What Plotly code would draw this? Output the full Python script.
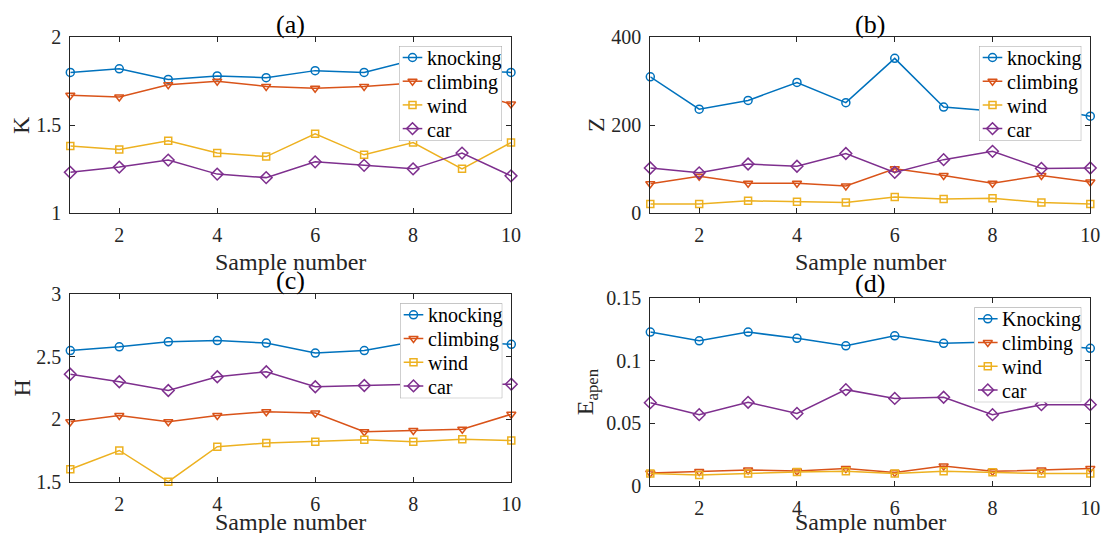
import plotly.graph_objects as go

W, H = 1106, 533
samples = list(range(1, 11))
series_names = ["knocking", "climbing", "wind", "car"]
series_names_d = ["Knocking", "climbing", "wind", "car"]

# (a) K
K_knocking = [1.80, 1.82, 1.76, 1.78, 1.77, 1.81, 1.80, 1.87, 1.81, 1.80]
K_climbing = [1.67, 1.66, 1.73, 1.75, 1.72, 1.71, 1.72, 1.74, 1.70, 1.62]
K_wind = [1.38, 1.36, 1.41, 1.34, 1.32, 1.45, 1.33, 1.40, 1.25, 1.40]
K_car = [1.23, 1.26, 1.30, 1.22, 1.20, 1.29, 1.27, 1.25, 1.34, 1.21]

# (b) Z
Z_knocking = [310, 236, 256, 297, 251, 352, 241, 232, 240, 220]
Z_climbing = [66, 83, 67, 67, 61, 100, 85, 67, 85, 70]
Z_wind = [20, 20, 27, 25, 23, 36, 31, 33, 23, 20]
Z_car = [102, 91, 111, 106, 135, 92, 121, 140, 101, 102]

# (c) H
H_knocking = [2.55, 2.58, 2.62, 2.63, 2.61, 2.53, 2.55, 2.62, 2.62, 2.60]
H_climbing = [1.98, 2.03, 1.98, 2.03, 2.06, 2.05, 1.90, 1.91, 1.92, 2.04]
H_wind = [1.60, 1.75, 1.50, 1.78, 1.81, 1.82, 1.835, 1.82, 1.84, 1.83]
H_car = [2.36, 2.30, 2.23, 2.34, 2.38, 2.26, 2.27, 2.28, 2.28, 2.28]

# (d) E_apen
E_knocking = [0.123, 0.116, 0.123, 0.118, 0.112, 0.120, 0.114, 0.115, 0.113, 0.110]
E_climbing = [0.0104, 0.0115, 0.0128, 0.0120, 0.0139, 0.0107, 0.0160, 0.0117, 0.0128, 0.0139]
E_wind = [0.0099, 0.0088, 0.0100, 0.0112, 0.0117, 0.0100, 0.0117, 0.0110, 0.0100, 0.0100]
E_car = [0.0666, 0.0570, 0.0669, 0.0580, 0.0770, 0.0700, 0.0709, 0.0570, 0.0650, 0.0650]

colors = ["#0072BD", "#D95319", "#EDB120", "#7E2F8E"]
symbols = ["circle-open", "triangle-down-open", "square-open", "diamond-open"]
msizes = [8, 8, 7, 9]

FONT = "Liberation Serif"
TXT = "#262626"

# pixel boxes of the axes: (left, right, top, bottom)
boxes = [(70.3, 511, 37.3, 212.7), (650.3, 1090.3, 37.3, 212.7),
         (70.3, 511.3, 294.3, 481.7), (650.3, 1090.3, 298.3, 486)]

panels = [
    dict(data=[K_knocking, K_climbing, K_wind, K_car], names=series_names,
         yrange=[1, 2], ytick=[1, 1.5, 2], ytext=["1", "1.5", "2"], ylabel="K", title="(a)"),
    dict(data=[Z_knocking, Z_climbing, Z_wind, Z_car], names=series_names,
         yrange=[0, 400], ytick=[0, 200, 400], ytext=["0", "200", "400"], ylabel="Z", title="(b)"),
    dict(data=[H_knocking, H_climbing, H_wind, H_car], names=series_names,
         yrange=[1.5, 3], ytick=[1.5, 2, 2.5, 3], ytext=["1.5", "2", "2.5", "3"], ylabel="H", title="(c)"),
    dict(data=[E_knocking, E_climbing, E_wind, E_car], names=series_names_d,
         yrange=[0, 0.15], ytick=[0, 0.05, 0.1, 0.15], ytext=["0", "0.05", "0.1", "0.15"],
         ylabel="E<sub>apen</sub>", title="(d)"),
]

# legend boxes (left, right, top, bottom) in pixels
leg_boxes = [(399, 502, 46, 141), (979, 1081.3, 46, 141),
             (400, 502.3, 303.3, 398.3), (974.3, 1081.3, 307.3, 402.3)]
ylab_x = [21, 596, 21.5, 587]
title_y = [24, 24, 280, 283.5]
xlab_y = [261.5, 261.5, 521.5, 521.5]

fig = go.Figure()
layout = dict(width=W, height=H,
              margin=dict(l=0, r=0, t=0, b=0, pad=0, autoexpand=False),
              paper_bgcolor="white", plot_bgcolor="white", showlegend=False,
              font=dict(family=FONT, color=TXT, size=20), annotations=[])

for i, p in enumerate(panels):
    n = i + 1
    xa = "x" if n == 1 else f"x{n}"
    ya = "y" if n == 1 else f"y{n}"
    for j in range(4):
        fig.add_trace(go.Scatter(
            x=samples, y=p["data"][j], name=p["names"][j], mode="lines+markers",
            line=dict(color=colors[j], width=1.5),
            marker=dict(symbol=symbols[j], size=msizes[j], color=colors[j],
                        line=dict(width=1.5, color=colors[j])),
            xaxis=xa, yaxis=ya, cliponaxis=False))
    l, r, t, b = boxes[i]
    common = dict(showline=True, linecolor=TXT, linewidth=1, mirror="ticks",
                  ticks="inside", ticklen=5, tickcolor=TXT, tickwidth=1,
                  showgrid=False, zeroline=False, tickfont=dict(size=20, family=FONT, color=TXT))
    layout["xaxis" if n == 1 else f"xaxis{n}"] = dict(
        domain=[l / W, r / W], range=[1, 10], tickvals=[2, 4, 6, 8, 10],
        anchor=ya, ticklabelstandoff=4, **common)
    layout["yaxis" if n == 1 else f"yaxis{n}"] = dict(
        domain=[1 - b / H, 1 - t / H], range=p["yrange"], tickvals=p["ytick"],
        ticktext=p["ytext"], anchor=xa, ticklabelstandoff=4, **common)
    cx = (l + r) / 2
    layout["annotations"].append(dict(
        text=p["title"], x=cx / W, y=1 - title_y[i] / H, xref="paper", yref="paper",
        xanchor="center", yanchor="middle", showarrow=False,
        font=dict(size=26, family=FONT, color="black")))
    layout["annotations"].append(dict(
        text="Sample number", x=cx / W, y=1 - xlab_y[i] / H, xref="paper", yref="paper",
        xanchor="center", yanchor="middle", showarrow=False,
        font=dict(size=24, family=FONT, color=TXT)))
    layout["annotations"].append(dict(
        text=p["ylabel"], x=ylab_x[i] / W, y=1 - ((t + b) / 2) / H, xref="paper", yref="paper",
        xanchor="center", yanchor="middle", showarrow=False, textangle=-90,
        font=dict(size=24, family=FONT, color=TXT)))

    # MATLAB-style legend drawn in its own pixel-scaled overlay axes
    m = n + 4
    lxa, lya = f"x{m}", f"y{m}"
    ll, lr, lt, lb = leg_boxes[i]
    lw, lh = lr - ll, lb - lt
    layout[f"xaxis{m}"] = dict(domain=[ll / W, lr / W], range=[0, lw], visible=False,
                               fixedrange=True, anchor=lya)
    layout[f"yaxis{m}"] = dict(domain=[1 - lb / H, 1 - lt / H], range=[lh, 0], visible=False,
                               fixedrange=True, anchor=lxa)
    fig.add_trace(go.Scatter(x=[0, lw, lw, 0, 0], y=[0, 0, lh, lh, 0], mode="lines",
                             fill="toself", fillcolor="white",
                             line=dict(color="#a0a0a0", width=1),
                             xaxis=lxa, yaxis=lya, hoverinfo="skip", cliponaxis=False))
    for j in range(4):
        yk = 11.5 + j * 23.7
        fig.add_trace(go.Scatter(x=[3.7, 23.3], y=[yk, yk], mode="lines",
                                 line=dict(color=colors[j], width=1.5),
                                 xaxis=lxa, yaxis=lya, hoverinfo="skip", cliponaxis=False))
        fig.add_trace(go.Scatter(x=[13.5], y=[yk], mode="markers",
                                 marker=dict(symbol=symbols[j], size=msizes[j], color=colors[j],
                                             line=dict(width=1.5, color=colors[j])),
                                 xaxis=lxa, yaxis=lya, hoverinfo="skip", cliponaxis=False))
        layout["annotations"].append(dict(
            text=p["names"][j], x=25.5, y=yk + 1, xref=lxa, yref=lya,
            xanchor="left", yanchor="middle", showarrow=False,
            font=dict(size=20, family=FONT, color="black")))

fig.update_layout(**layout)
fig.write_html("out.html", config={"displayModeBar": False},
               post_script="document.body.style.margin='0';document.body.style.overflow='hidden';")
